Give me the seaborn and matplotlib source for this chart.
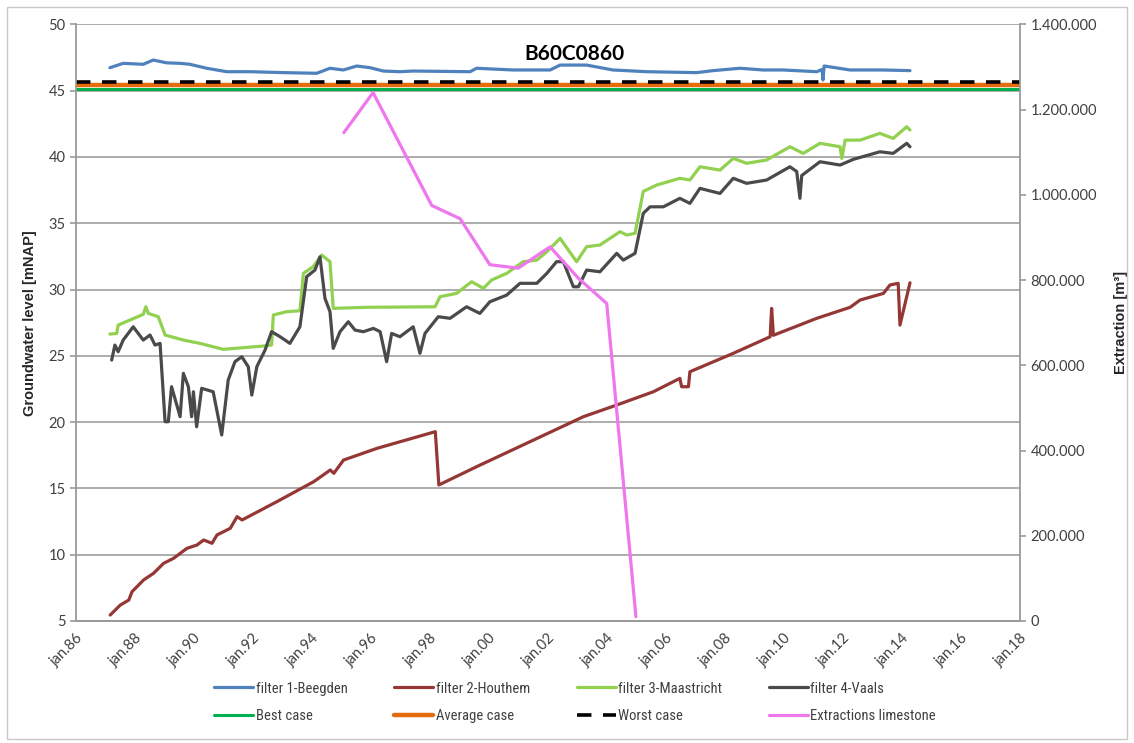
import numpy as np
import matplotlib
matplotlib.use("Agg")
import matplotlib.pyplot as plt
from matplotlib.patches import Rectangle
from matplotlib import font_manager
import seaborn as sns

# %%
# values (x = decimal year)
beegden_x = [1987.15, 1987.6, 1988.28, 1988.62, 1989.07, 1989.53, 1989.86, 1990.43, 1991.11,
             1991.9, 1993.03, 1994.16, 1994.61, 1995.06, 1995.52, 1995.97, 1996.42, 1996.98,
             1997.42, 1999.36, 1999.58, 2000.81, 2002.07, 2002.41, 2003.31, 2004.2, 2005.35,
             2007.04, 2007.59, 2008.51, 2009.29, 2009.97, 2011.11, 2011.29, 2011.32, 2011.36,
             2012.24, 2013.36, 2014.27]
beegden_y = [46.73, 47.06, 46.99, 47.31, 47.1, 47.06, 46.99, 46.69, 46.43,
             46.43, 46.36, 46.31, 46.69, 46.56, 46.86, 46.73, 46.48, 46.43,
             46.48, 46.43, 46.69, 46.56, 46.56, 46.93, 46.93, 46.56, 46.43,
             46.36, 46.51, 46.69, 46.56, 46.56, 46.43, 46.6, 45.8, 46.86,
             46.56, 46.56, 46.51]

houthem_x = [1987.16, 1987.5, 1987.79, 1987.9, 1988.29, 1988.63, 1988.97, 1989.31, 1989.76,
             1990.1, 1990.33, 1990.61, 1990.78, 1991.23, 1991.46, 1991.63, 1992.81, 1994.06,
             1994.62, 1994.74, 1995.07, 1996.2, 1998.18, 1998.3, 1999.59, 2003.2, 2004.33,
             2005.57, 2006.47, 2006.53, 2006.76, 2006.81, 2008.28, 2009.53, 2009.58, 2009.64,
             2011.11, 2012.24, 2012.58, 2013.37, 2013.59, 2013.87, 2013.93, 2014.27]
houthem_y = [5.45, 6.2, 6.58, 7.21, 8.09, 8.6, 9.35, 9.73, 10.48,
             10.73, 11.11, 10.86, 11.49, 11.99, 12.87, 12.62, 14.0, 15.51,
             16.39, 16.14, 17.14, 18.02, 19.28, 15.26, 16.65, 20.41, 21.29,
             22.29, 23.3, 22.67, 22.67, 23.8, 25.19, 26.44, 28.58, 26.55,
             27.83, 28.66, 29.21, 29.71, 30.34, 30.47, 27.32, 30.51]

maastricht_x = [1987.15, 1987.38, 1987.43, 1987.83, 1988.28, 1988.37, 1988.45, 1988.79, 1989.02,
                1989.64, 1990.2, 1990.99, 1992.35, 1992.63, 1992.69, 1993.14, 1993.59, 1993.71,
                1994.04, 1994.33, 1994.61, 1994.72, 1995.85, 1998.17, 1998.34, 1998.9, 1999.41,
                1999.81, 2000.09, 2000.6, 2001.16, 2001.62, 2001.96, 2002.41, 2002.97, 2003.31,
                2003.76, 2004.44, 2004.67, 2004.95, 2005.23, 2005.68, 2006.47, 2006.81, 2007.15,
                2007.83, 2008.28, 2008.73, 2009.41, 2010.2, 2010.65, 2011.22, 2011.9, 2011.96,
                2012.07, 2012.58, 2013.25, 2013.7, 2014.16, 2014.27]
maastricht_y = [26.64, 26.69, 27.32, 27.7, 28.13, 28.7, 28.2, 27.95, 26.57,
                26.19, 25.94, 25.49, 25.74, 25.81, 28.08, 28.33, 28.4, 31.22,
                31.72, 32.6, 32.1, 28.58, 28.66, 28.7, 29.46, 29.71, 30.59,
                30.09, 30.72, 31.22, 32.1, 32.22, 32.85, 33.86, 32.1, 33.23,
                33.36, 34.36, 34.11, 34.24, 37.4, 37.88, 38.39, 38.26, 39.26,
                39.01, 39.89, 39.52, 39.77, 40.77, 40.27, 41.03, 40.77, 39.89,
                41.27, 41.27, 41.78, 41.4, 42.28, 42.03]

vaals_x = [1987.21, 1987.32, 1987.43, 1987.6, 1987.94, 1988.28, 1988.51, 1988.68, 1988.85,
           1989.02, 1989.13, 1989.24, 1989.53, 1989.64, 1989.81, 1989.92, 1989.98, 1990.09,
           1990.26, 1990.65, 1990.94, 1991.16, 1991.39, 1991.62, 1991.84, 1991.96, 1992.13,
           1992.41, 1992.63, 1992.92, 1993.25, 1993.59, 1993.82, 1994.1, 1994.27, 1994.44,
           1994.61, 1994.72, 1994.95, 1995.23, 1995.46, 1995.74, 1996.08, 1996.31, 1996.53,
           1996.7, 1996.98, 1997.43, 1997.66, 1997.83, 1998.28, 1998.68, 1999.24, 1999.69,
           2000.03, 2000.6, 2001.05, 2001.62, 2001.96, 2002.29, 2002.52, 2002.86, 2003.03,
           2003.31, 2003.76, 2004.33, 2004.55, 2004.95, 2005.23, 2005.46, 2005.91, 2006.47,
           2006.81, 2007.15, 2007.83, 2008.28, 2008.73, 2009.41, 2010.2, 2010.43, 2010.54,
           2010.6, 2011.22, 2011.9, 2012.35, 2013.25, 2013.7, 2014.16, 2014.27]
vaals_y = [24.68, 25.81, 25.31, 26.19, 27.19, 26.19, 26.57, 25.81, 25.94,
           20.03, 20.03, 22.67, 20.41, 23.68, 22.67, 20.41, 22.29, 19.65,
           22.55, 22.29, 19.03, 23.18, 24.56, 24.93, 24.18, 22.04, 24.18,
           25.44, 26.82, 26.44, 25.94, 27.19, 30.97, 31.47, 32.47, 29.33,
           28.33, 25.56, 26.82, 27.57, 26.94, 26.82, 27.07, 26.82, 24.56,
           26.69, 26.44, 27.19, 25.19, 26.69, 27.95, 27.83, 28.7, 28.2,
           29.08, 29.58, 30.47, 30.47, 31.22, 32.1, 32.1, 30.21, 30.21,
           31.47, 31.34, 32.73, 32.22, 32.73, 35.75, 36.24, 36.24, 36.88,
           36.5, 37.63, 37.25, 38.39, 38.01, 38.26, 39.26, 38.9, 36.88,
           38.6, 39.64, 39.39, 39.82, 40.39, 40.27, 41.03, 40.77]

scenario_x = [1986, 2018]
best_case = [45.15, 45.15]
average_case = [45.45, 45.45]
worst_case = [45.62, 45.62]

extraction_x = [1995.08, 1996.07, 1998.06, 1999.02, 2000.03, 2000.99, 2002.07, 2003.02, 2003.99, 2004.98]
extraction_y = [1146000, 1240000, 975000, 944000, 836000, 828000, 878000, 805000, 745000, 10000]

tick_years = list(range(1986, 2019, 2))
tick_labels = [f"jan.{y % 100:02d}" for y in tick_years]

# %%
sns.set_style("white")
grey_txt = "#404040"
axis_grey = "#9a9a9a"

# narrow font for the legend, if one is around
installed = {f.name for f in font_manager.fontManager.ttflist}
narrow = [f for f in ["Liberation Sans Narrow", "DejaVu Sans Condensed", "Roboto Condensed",
                      "Open Sans Condensed", "Noto Sans Condensed"] if f in installed]
legend_family = narrow + ["DejaVu Sans"] if narrow else ["Roboto", "DejaVu Sans"]

fig = plt.figure(figsize=(11.34, 7.43), dpi=100)
ax = fig.add_axes([0.067, 0.1642, 0.8325, 0.803])
ax2 = ax.twinx()

lw = 2.3
sns.lineplot(x=scenario_x, y=best_case, ax=ax, color="#00B050", linewidth=2.2, label="Best case", legend=False)
sns.lineplot(x=scenario_x, y=average_case, ax=ax, color="#E46C0A", linewidth=3.2, label="Average case", legend=False)
sns.lineplot(x=scenario_x, y=worst_case, ax=ax, color="black", linewidth=2.6, label="Worst case", legend=False)
ax.lines[-1].set_dashes([4, 3.2])
sns.lineplot(x=beegden_x, y=beegden_y, ax=ax, color="#4F81BD", linewidth=lw, label="filter 1-Beegden", legend=False)
sns.lineplot(x=houthem_x, y=houthem_y, ax=ax, color="#953735", linewidth=lw, label="filter 2-Houthem", legend=False)
sns.lineplot(x=maastricht_x, y=maastricht_y, ax=ax, color="#92D050", linewidth=lw, label="filter 3-Maastricht", legend=False)
sns.lineplot(x=vaals_x, y=vaals_y, ax=ax, color="#4A4A4A", linewidth=lw, label="filter 4-Vaals", legend=False)
sns.lineplot(x=extraction_x, y=extraction_y, ax=ax2, color="#EE77EE", linewidth=lw,
             label="Extractions limestone", legend=False)

# left axis
ax.set_xlim(1986, 2018)
ax.set_ylim(5, 50)
ax.set_yticks(range(5, 51, 5))
ax.yaxis.grid(True, color="#a6a6a6", linewidth=1.3)
ax.set_axisbelow(True)
ax.set_xticks(tick_years)
ax.set_xticklabels(tick_labels, rotation=45, ha="right", rotation_mode="anchor")
ax.set_ylabel("Groundwater level [mNAP]", fontsize=10.5, fontweight="bold",
              family=["Liberation Sans", "DejaVu Sans"], labelpad=8)

# right axis
ax2.set_ylim(0, 1400000)
ax2.set_yticks(range(0, 1400001, 200000))
ax2.set_yticklabels([f"{v:,}".replace(",", ".") for v in range(0, 1400001, 200000)])
ax2.set_ylabel("Extraction [m³]", fontsize=10.5, fontweight="bold",
               family=["Liberation Sans", "DejaVu Sans"], labelpad=12)

for a in (ax, ax2):
    a.spines["top"].set_visible(False)
    for side in ("left", "right", "bottom"):
        a.spines[side].set_color(axis_grey)
        a.spines[side].set_linewidth(1.3)
    a.tick_params(length=4, width=1.2, color=axis_grey, labelcolor=grey_txt, labelsize=10.5)
    for t in a.get_xticklabels() + a.get_yticklabels():
        t.set_family(["Lato", "DejaVu Sans"])
ax2.spines["left"].set_visible(False)
ax.spines["right"].set_visible(False)

ax.text(0.5285, 0.95, "B60C0860", transform=ax.transAxes, ha="center", va="center",
        fontsize=15, fontweight="bold", family=["Lato", "DejaVu Sans"], color="black")

# legend below the plot, 2 rows x 4 columns
h1, l1 = ax.get_legend_handles_labels()
h2, l2 = ax2.get_legend_handles_labels()
hmap = dict(zip(l1 + l2, h1 + h2))
order = ["filter 1-Beegden", "Best case", "filter 2-Houthem", "Average case",
         "filter 3-Maastricht", "Worst case", "filter 4-Vaals", "Extractions limestone"]
leg = fig.legend([hmap[k] for k in order], order, ncol=4, loc="center",
                 bbox_to_anchor=(0.507, 0.055), frameon=False, handlelength=2.7,
                 columnspacing=3.2, handletextpad=0.15, labelspacing=0.9,
                 prop={"family": legend_family, "size": 10.5})
for t in leg.get_texts():
    t.set_color(grey_txt)

fig.patches.append(Rectangle((0.006, 0.006), 0.988, 0.984, transform=fig.transFigure,
                             fill=False, edgecolor="#c8c8c8", linewidth=1.0))

plt.savefig("out.png", dpi=100)
